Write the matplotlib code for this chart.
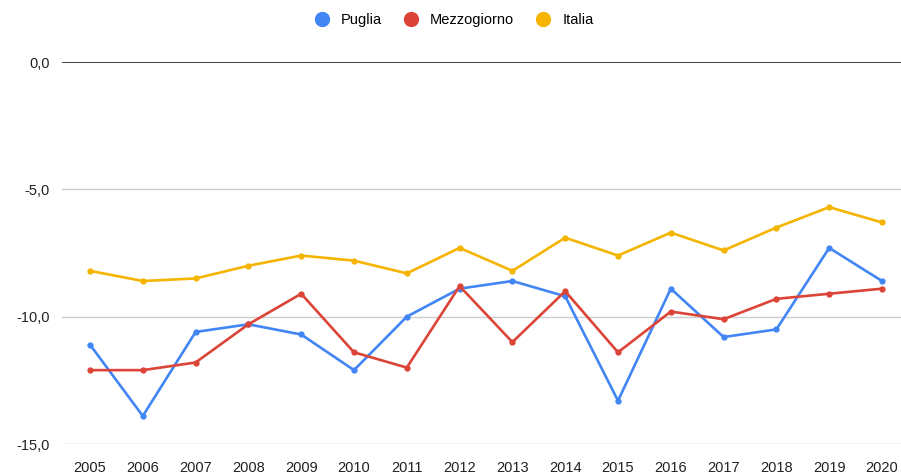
import matplotlib
matplotlib.use("Agg")
import matplotlib.pyplot as plt
from matplotlib.lines import Line2D
from matplotlib.ticker import FuncFormatter

years = list(range(2005, 2021))
puglia = [-11.1, -13.9, -10.6, -10.3, -10.7, -12.1, -10.0, -8.9, -8.6, -9.2, -13.3, -8.9, -10.8, -10.5, -7.3, -8.6]
mezzogiorno = [-12.1, -12.1, -11.8, -10.3, -9.1, -11.4, -12.0, -8.8, -11.0, -9.0, -11.4, -9.8, -10.1, -9.3, -9.1, -8.9]
italia = [-8.2, -8.6, -8.5, -8.0, -7.6, -7.8, -8.3, -7.3, -8.2, -6.9, -7.6, -6.7, -7.4, -6.5, -5.7, -6.3]
series_names = ["Puglia", "Mezzogiorno", "Italia"]
colors = ["#4285F4", "#DB4437", "#F4B400"]
yticks = [0, -5, -10, -15]

plt.rcParams['font.family'] = ['Liberation Sans Narrow', 'Liberation Sans', 'DejaVu Sans']

fig = plt.figure(figsize=(9.01, 4.75), dpi=100)
ax = fig.add_axes([62/901, 1-444/475, 1-62/901, (444-62)/475])

for vals, c in zip([puglia, mezzogiorno, italia], colors):
    ax.plot(years, vals, color=c, lw=1.9, marker='o', markersize=3.5, zorder=3)

ax.set_ylim(-15, 0)
ax.set_xlim(2005 - 28/52.8, 2020 + 19/52.8)
ax.set_yticks(yticks)
ax.yaxis.set_major_formatter(FuncFormatter(lambda v, p: f"{v:.1f}".replace('.', ',')))
ax.set_xticks(years)
ax.set_xticklabels([str(y) for y in years])
for t in yticks:
    if t == 0:
        ax.axhline(t, color='#222222', lw=1.2, zorder=2)
    else:
        ax.axhline(t, color='#cccccc', lw=1.0, zorder=1)
for s in ax.spines.values():
    s.set_visible(False)
ax.tick_params(axis='both', length=0, labelsize=10.5, colors='#222222')
ax.tick_params(axis='x', pad=12)
ax.tick_params(axis='y', pad=9)

handles = [Line2D([], [], color=c, marker='o', linestyle='none', markersize=10) for c in colors]
fig.legend(handles, series_names, loc='center', bbox_to_anchor=(0.5, 1-20/475), ncol=3,
           frameon=False, fontsize=10.5, handletextpad=0.3, columnspacing=1.0)

fig.savefig("out.png", dpi=100)
